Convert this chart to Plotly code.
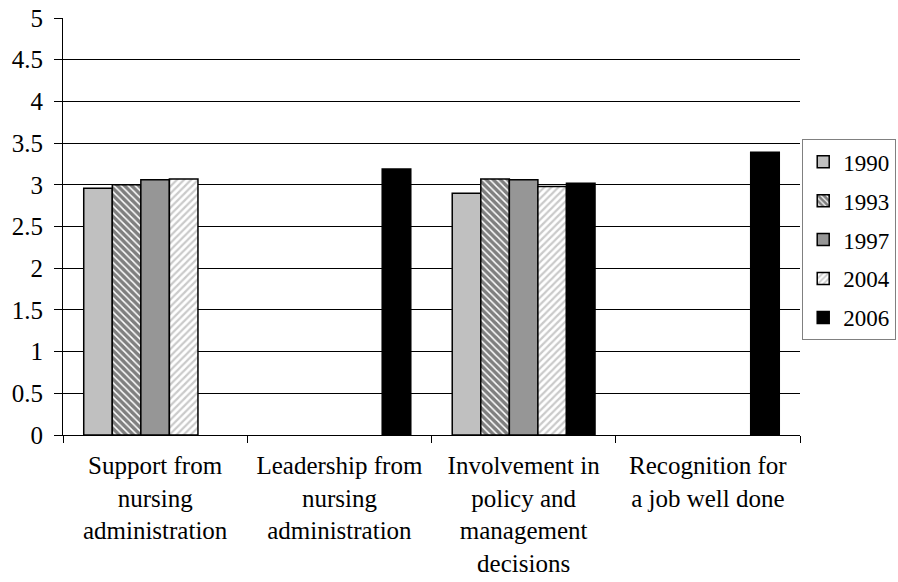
import plotly.graph_objects as go

categories = [
    "Support from<br>nursing<br>administration",
    "Leadership from<br>nursing<br>administration",
    "Involvement in<br>policy and<br>management<br>decisions",
    "Recognition for<br>a job well done",
]
years = ["1990", "1993", "1997", "2004", "2006"]
v1990 = [2.96, None, 2.90, None]
v1993 = [3.00, None, 3.07, None]
v1997 = [3.06, None, 3.06, None]
v2004 = [3.07, None, 2.98, None]
v2006 = [None, 3.19, 3.02, 3.39]
series = [v1990, v1993, v1997, v2004, v2006]

FONT = "Liberation Serif, Times New Roman, serif"
styles = [
    dict(color="#C0C0C0"),
    dict(color="white", pattern=dict(shape="\\", fgcolor="black", bgcolor="white",
                                      size=5, solidity=0.7)),
    dict(color="#969696"),
    dict(color="white", pattern=dict(shape="/", fgcolor="#969696", bgcolor="white",
                                      size=5, solidity=0.45)),
    dict(color="black"),
]

fig = go.Figure()
for yr, vals, st in zip(years, series, styles):
    fig.add_trace(go.Bar(x=categories, y=vals, name=yr, legendgroup=yr,
                         marker=dict(line=dict(color="black", width=1.5), **st)))

fig.update_layout(
    width=898, height=582,
    margin=dict(l=63, r=98, t=18, b=147, autoexpand=False),
    plot_bgcolor="white", paper_bgcolor="white",
    barmode="group", bargap=0.225, bargroupgap=0,
    font=dict(family=FONT, size=25, color="black"),
    showlegend=True,
    legend=dict(x=1.003, xanchor="left", y=0.468, yanchor="middle",
                bordercolor="#808080", borderwidth=1, traceorder="grouped",
                tracegroupgap=6, font=dict(family=FONT, size=23),
                itemwidth=30),
)
fig.update_yaxes(range=[0, 5], dtick=0.5, showgrid=True, gridcolor="#000000",
                 gridwidth=1, showline=True, linecolor="black", linewidth=1,
                 ticks="outside", ticklen=8, tickcolor="black", zeroline=False,
                 tickfont=dict(family=FONT, size=25), automargin=False,
                 ticklabelstandoff=6)
fig.update_xaxes(showline=True, linecolor="black", linewidth=1, ticks="outside",
                 tickson="boundaries", ticklen=7, tickcolor="black",
                 tickfont=dict(family=FONT, size=25), tickangle=0,
                 automargin=False, ticklabelstandoff=8)

# drop the default 8px body margin so the figure fills the window
fig.write_html("out.html", config={"displayModeBar": False},
               post_script="document.body.style.margin='0';")
